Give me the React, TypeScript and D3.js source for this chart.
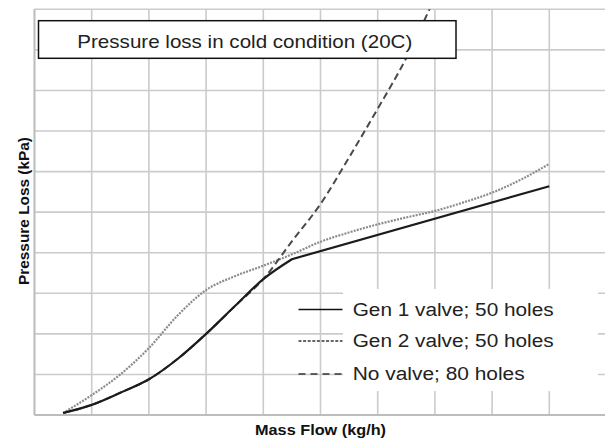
import React from 'react'
import * as d3 from 'd3'

// mass flow / pressure loss (grid units, no tick labels in source)
const gen1Flow = [0.5, 1, 1.5, 2, 2.5, 3, 3.5, 4, 4.5, 9]
const gen1Loss = [0.05, 0.25, 0.55, 0.88, 1.38, 2.0, 2.68, 3.35, 3.84, 5.64]

const gen2Flow = [0.5, 1, 1.5, 2, 2.5, 3, 3.5, 4, 4.5, 5, 5.5, 6, 6.5, 7, 7.5, 8, 8.5, 9]
const gen2Loss = [0.05, 0.49, 1.0, 1.65, 2.45, 3.08, 3.42, 3.68, 3.96, 4.27, 4.5, 4.7, 4.87, 5.03, 5.24, 5.48, 5.8, 6.19]

const noValveFlow = [0.5, 1, 1.5, 2, 2.5, 3, 3.5, 4, 4.5, 5, 5.5, 6, 6.5, 7]
const noValveLoss = [0.05, 0.25, 0.55, 0.88, 1.38, 2.0, 2.68, 3.35, 4.28, 5.2, 6.35, 7.55, 8.8, 10.3]

const gridTicks = [0, 1, 2, 3, 4, 5, 6, 7, 8, 9, 10]

const seriesNames = ['Gen 1 valve; 50 holes', 'Gen 2 valve; 50 holes', 'No valve; 80 holes']
const chartTitle = 'Pressure loss in cold condition (20C)'
const xTitle = 'Mass Flow (kg/h)'
const yTitle = 'Pressure Loss (kPa)'

const W = 605
const H = 441
const font = '"Liberation Sans", Arial, sans-serif'

const App = () => {
    const x = d3.scaleLinear().domain([0, 10]).range([34.5, 606.5])
    const y = d3.scaleLinear().domain([0, 10]).range([415, 9.3])

    const smooth = d3
          .line<[number, number]>()
          .x(d => x(d[0]))
          .y(d => y(d[1]))
          .curve(d3.curveMonotoneX)

    const zip = (a: number[], b: number[]) => a.map((v, i) => [v, b[i]] as [number, number])

    // gen 1: smooth rise, then straight run after the knee
    const g1 = zip(gen1Flow, gen1Loss)
    const g1Last = g1[g1.length - 1]
    const gen1Path = (smooth(g1.slice(0, -1)) || '') + `L${x(g1Last[0])},${y(g1Last[1])}`

    const series = [
        { name: seriesNames[0], d: gen1Path, stroke: '#1c1c1c', width: 2.2, dash: undefined, legendDash: undefined },
        { name: seriesNames[1], d: smooth(zip(gen2Flow, gen2Loss)) || '', stroke: '#8c8c8c', width: 2.2, dash: '2 1.2', legendDash: '3 1.6' },
        { name: seriesNames[2], d: smooth(zip(noValveFlow, noValveLoss)) || '', stroke: '#4a4a4a', width: 2, dash: '7 4', legendDash: '7 5' },
    ]

    // legend layout
    const legendRows = [316, 347, 380]
    const legendLineY = [309.5, 341, 374]
    const legendWidths = [201, 201, 172]

    return (
        <svg width={W} height={H} style={{ position: 'absolute', left: 0, top: 0, background: '#fff' }}>
            <defs>
                <clipPath id="plot">
                    <rect x={x(0)} y={y(10)} width={x(10) - x(0)} height={y(0) - y(10)} />
                </clipPath>
            </defs>
            <rect width={W} height={H} fill="#fff" />
            {/* grid */}
            {gridTicks.map(t => (
                <line key={`v${t}`} x1={x(t)} x2={x(t)} y1={y(10)} y2={y(0)} stroke="#cbcbcb" strokeWidth={1.6} />
            ))}
            {gridTicks.map(t => (
                <line key={`h${t}`} x1={x(0)} x2={x(10)} y1={y(t)} y2={y(t)} stroke="#cbcbcb" strokeWidth={1.6} />
            ))}
            <line x1={x(0)} x2={x(0)} y1={y(10)} y2={y(0)} stroke="#bdbdbd" strokeWidth={1.8} />
            <line x1={x(0)} x2={x(10)} y1={y(0)} y2={y(0)} stroke="#bdbdbd" strokeWidth={1.8} />

            {/* series */}
            <g clipPath="url(#plot)">
                {[series[1], series[2], series[0]].map(s => (
                    <path
                        key={s.name}
                        d={s.d}
                        fill="none"
                        stroke={s.stroke}
                        strokeWidth={s.width}
                        strokeDasharray={s.dash}
                    />
                ))}
            </g>

            {/* title box */}
            <rect x={38.5} y={20.7} width={417.5} height={37.6} fill="#fff" stroke="#111" strokeWidth={1.5} />
            <text x={77.3} y={47.7} fontFamily={font} fontSize={19} fill="#222" textLength={335} lengthAdjust="spacingAndGlyphs">
                {chartTitle}
            </text>

            {/* legend */}
            <rect x={343} y={289} width={255} height={102} fill="#fff" />
            {series.map((s, i) => (
                <g key={`lg${i}`}>
                    <line
                        x1={298.5}
                        x2={342.5}
                        y1={legendLineY[i]}
                        y2={legendLineY[i]}
                        stroke={i === 0 ? '#111' : '#333'}
                        strokeWidth={1.5}
                        strokeDasharray={s.legendDash}
                    />
                    <text
                        x={352.7}
                        y={legendRows[i]}
                        fontFamily={font}
                        fontSize={18}
                        fill="#222"
                        textLength={legendWidths[i]}
                        lengthAdjust="spacingAndGlyphs"
                    >
                        {s.name}
                    </text>
                </g>
            ))}

            {/* axis titles */}
            <text x={320.5} y={435} textAnchor="middle" fontFamily={font} fontSize={15} fontWeight="bold" fill="#111" textLength={131} lengthAdjust="spacingAndGlyphs">
                {xTitle}
            </text>
            <text
                transform="translate(29, 211) rotate(-90)"
                textAnchor="middle"
                fontFamily={font}
                fontSize={15}
                fontWeight="bold"
                fill="#111"
                textLength={148}
                lengthAdjust="spacingAndGlyphs"
            >
                {yTitle}
            </text>
        </svg>
    )
}

export default App
